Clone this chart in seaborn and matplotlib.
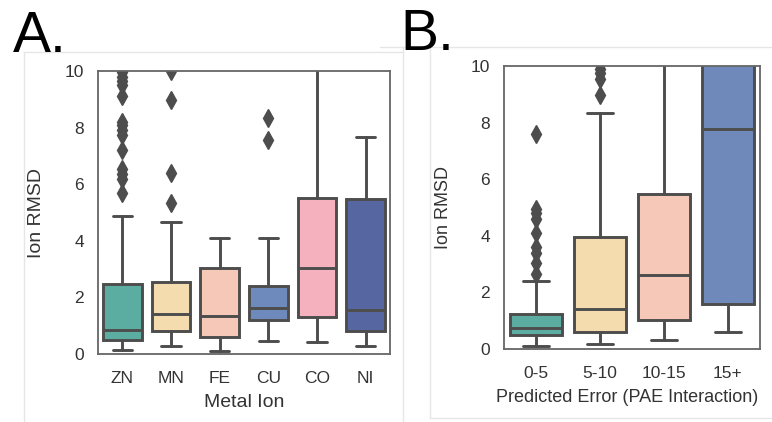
import matplotlib
matplotlib.use("Agg")
import matplotlib.pyplot as plt
from matplotlib.lines import Line2D
import seaborn as sns

# panel A: ion RMSD by metal (box stats)
metal_ions = ["ZN", "MN", "FE", "CU", "CO", "NI"]
metal_q1 = [0.51, 0.80, 0.59, 1.19, 1.30, 0.82]
metal_med = [0.86, 1.42, 1.33, 1.62, 3.03, 1.56]
metal_q3 = [2.48, 2.53, 3.03, 2.39, 5.52, 5.49]
metal_whislo = [0.15, 0.27, 0.09, 0.45, 0.42, 0.27]
metal_whishi = [4.88, 4.68, 4.09, 4.09, 11.5, 7.67]
metal_fliers = [
    [5.7, 6.2, 6.35, 6.55, 7.2, 7.75, 7.9, 8.1, 8.2, 9.1, 9.5, 9.65, 9.8, 9.95, 10.4, 12.0],
    [5.32, 6.4, 8.99, 10.0],
    [],
    [7.56, 8.34],
    [],
    [],
]
metal_colors = ["#5aada0", "#f5dcaf", "#f5c8b8", "#6e8abd", "#f5b1bd", "#5566a0"]

# panel B: ion RMSD by predicted error bin
pae_bins = ["0-5", "5-10", "10-15", "15+"]
pae_q1 = [0.48, 0.61, 1.02, 1.58]
pae_med = [0.74, 1.40, 2.61, 7.79]
pae_q3 = [1.24, 3.96, 5.47, 11.5]
pae_whislo = [0.09, 0.16, 0.32, 0.61]
pae_whishi = [2.40, 8.34, 12.0, 16.0]
pae_fliers = [
    [2.65, 3.05, 3.4, 3.6, 4.1, 4.6, 4.8, 4.95, 7.6],
    [8.96, 9.55, 9.75, 9.9],
    [],
    [],
]
pae_colors = ["#5aada0", "#f5dcaf", "#f5c8b8", "#6f89bb"]

sns.set_theme(style="white")
plt.rcParams["font.family"] = ["Liberation Sans", "DejaVu Sans"]

GRAY = "#4d4d4d"
W, H = 772, 422


def make_stats(labels, q1, med, q3, lo, hi, fliers):
    return [
        dict(label=l, q1=a, med=m, q3=b, whislo=w0, whishi=w1, fliers=f)
        for l, a, m, b, w0, w1, f in zip(labels, q1, med, q3, lo, hi, fliers)
    ]


def draw_box(ax, stats, colors, xlabel, tick_size, label_size, label_x=0.5):
    line = dict(color=GRAY, linewidth=2.1)
    bp = ax.bxp(stats, positions=list(range(len(stats))), widths=0.8,
                patch_artist=True, showfliers=True,
                boxprops=dict(edgecolor=GRAY, linewidth=2.1),
                medianprops=line, whiskerprops=line, capprops=line,
                flierprops=dict(marker="d", markerfacecolor=GRAY,
                                markeredgecolor=GRAY, markersize=9))
    for patch, c in zip(bp["boxes"], colors):
        patch.set_facecolor(c)
    ax.set_xlim(-0.5, len(stats) - 0.5)
    ax.set_ylim(0, 10)
    ax.set_yticks([0, 2, 4, 6, 8, 10])
    ax.set_xticks(list(range(len(stats))))
    ax.set_xticklabels([s["label"] for s in stats])
    ax.tick_params(axis="both", labelsize=tick_size, colors="#333333", length=0)
    ax.tick_params(axis="x", pad=12)
    ax.tick_params(axis="y", pad=10)
    ax.set_xlabel(xlabel, fontsize=label_size, color="#333333", labelpad=6, x=label_x)
    ax.set_ylabel("Ion RMSD", fontsize=label_size, color="#333333")
    for sp in ax.spines.values():
        sp.set_color("#666666")
        sp.set_linewidth(1.3)


fig = plt.figure(figsize=(W / 100, H / 100), dpi=100)

# faint panel frames from the composed figure
frame = dict(color="#e6e6e6", linewidth=1)
for x0, y0, x1, y1 in [(24, 52, 24, 422), (24, 52, 403, 52), (403, 47, 403, 422),
                       (430, 47, 430, 418), (430, 418, 772, 418), (380, 47, 772, 47)]:
    fig.add_artist(Line2D([x0 / W, x1 / W], [1 - y0 / H, 1 - y1 / H], **frame))

ax1 = fig.add_axes([98 / W, 1 - 354 / H, (390 - 98) / W, (354 - 71) / H])
ax2 = fig.add_axes([504 / W, 1 - 349 / H, (760 - 504) / W, (349 - 66) / H])

draw_box(ax1, make_stats(metal_ions, metal_q1, metal_med, metal_q3,
                         metal_whislo, metal_whishi, metal_fliers),
         metal_colors, "Metal Ion", 12.5, 14)
draw_box(ax2, make_stats(pae_bins, pae_q1, pae_med, pae_q3,
                         pae_whislo, pae_whishi, pae_fliers),
         pae_colors, "Predicted Error (PAE Interaction)", 12.5, 13,
         label_x=(627 - 504) / (760 - 504))

ax1.yaxis.set_label_coords((45 - 98) / (390 - 98), 0.5)
ax2.yaxis.set_label_coords((452 - 504) / (760 - 504), 0.5)

fig.text(13 / W, 1 - 52 / H, "A.", fontsize=41, va="baseline", color="black")
fig.text(400 / W, 1 - 50 / H, "B.", fontsize=41, va="baseline", color="black")

fig.savefig("out.png", dpi=100)
